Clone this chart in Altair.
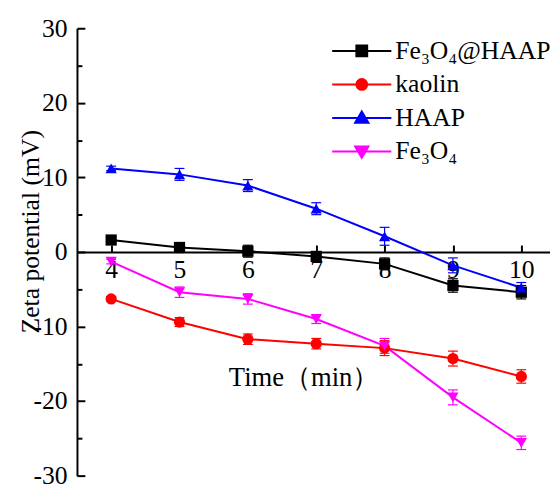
import altair as alt
import pandas as pd

time = [4, 5, 6, 7, 8, 9, 10]
series_names = ["Fe₃O₄@HAAP", "kaolin", "HAAP", "Fe₃O₄"]
colors = ["#000000", "#ff0000", "#0000ff", "#ff00ff"]
shapes = ["square", "circle", "triangle-up", "triangle-down"]

fe3o4_haap = [1.6, 0.6, 0.1, -0.6, -1.6, -4.5, -5.4]
fe3o4_haap_err = [0.3, 0.5, 0.8, 0.5, 0.8, 0.9, 0.9]
kaolin = [-6.3, -9.4, -11.7, -12.3, -12.9, -14.3, -16.7]
kaolin_err = [0.3, 0.6, 0.7, 0.7, 1.0, 1.0, 0.9]
haap = [11.2, 10.4, 8.9, 5.8, 2.1, -1.8, -4.8]
haap_err = [0.3, 0.8, 0.8, 0.8, 1.2, 1.0, 0.7]
fe3o4 = [-1.3, -5.4, -6.3, -9.0, -12.6, -19.5, -25.6]
fe3o4_err = [0.3, 0.7, 0.7, 0.6, 1.0, 1.0, 0.9]

y_major = [-30, -20, -10, 0, 10, 20, 30]
y_minor = [-25, -15, -5, 5, 15, 25]

# legend keys: line + marker glyphs (symbol paths in units of half the symbol size)
LINE = "M -6 0 L 6 0 "
legend_glyphs = [
    LINE + "M -1.1 -1.1 L 1.1 -1.1 L 1.1 1.1 L -1.1 1.1 Z",
    LINE + "M -1.1 0 A 1.1 1.1 0 1 0 1.1 0 A 1.1 1.1 0 1 0 -1.1 0 Z",
    LINE + "M 0 -1.3 L 1.35 1.0 L -1.35 1.0 Z",
    LINE + "M 0 1.3 L 1.35 -1.0 L -1.35 -1.0 Z",
]

rows = []
for name, vals, errs in zip(series_names,
                            [fe3o4_haap, kaolin, haap, fe3o4],
                            [fe3o4_haap_err, kaolin_err, haap_err, fe3o4_err]):
    for t, v, e in zip(time, vals, errs):
        rows.append(dict(time=t, zeta=v, lo=v - e, hi=v + e, series=name))
df = pd.DataFrame(rows)

FONT = "Liberation Serif"
W, H = 480, 454
xscale = alt.Scale(domain=[3.5, 10.42], nice=False, zero=False)
yscale = alt.Scale(domain=[-30, 30], nice=False, zero=False)


def cscale():
    return alt.Scale(domain=series_names, range=colors)


x_main_axis = alt.Axis(orient="bottom", offset=-H / 2, values=time, tickSize=0,
                       labelPadding=5, labelFontSize=26, labelFont=FONT,
                       labelColor="black", labelFlush=False, domainColor="black",
                       domainWidth=2, grid=False, title="Time（min）", titleFont=FONT,
                       titleFontSize=27, titleFontWeight="normal", titleColor="black",
                       titleX=230, titleY=128, titleAlign="center", titleBaseline="middle")
x_tick_axis = alt.Axis(orient="top", offset=-H / 2, values=time, tickSize=7,
                       tickWidth=2, tickColor="black", labels=False, domain=False,
                       grid=False, title=None)
y_main_axis = alt.Axis(orient="left", values=y_major, tickSize=0, labelPadding=10,
                       labelFontSize=26, labelFont=FONT, labelColor="black",
                       labelFlush=False, labelExpr="datum.value + ''",
                       domainColor="black", domainWidth=2, grid=False,
                       title="Zeta potential (mV)", titleFont=FONT, titleFontSize=26,
                       titleFontWeight="normal", titleColor="black",
                       titleX=-47, titleY=206, titleAngle=270, titleAlign="center",
                       titleBaseline="middle")
y_major_ticks = alt.Axis(orient="right", offset=-W, values=y_major, tickSize=8,
                         tickWidth=2, tickColor="black", labels=False, domain=False,
                         grid=False, title=None)
y_minor_ticks = alt.Axis(orient="right", offset=-W, values=y_minor, tickSize=5,
                         tickWidth=2, tickColor="black", labels=False, domain=False,
                         grid=False, title=None)

key_legend = alt.Legend(orient="none", legendX=276, legendY=10, title=None,
                        symbolSize=100, symbolStrokeWidth=2, symbolOpacity=1,
                        labelFontSize=26, labelFont=FONT, labelColor="black",
                        labelOffset=21, rowPadding=8, padding=0)

base = alt.Chart(df)

lines = base.mark_line(strokeWidth=2).encode(
    x=alt.X("time:Q", scale=xscale, axis=x_main_axis),
    y=alt.Y("zeta:Q", scale=yscale, axis=y_main_axis),
    stroke=alt.Stroke("series:N", scale=cscale(), legend=None),
)

err = base.mark_rule(strokeWidth=1.2).encode(
    x=alt.X("time:Q", scale=xscale, axis=x_tick_axis),
    y=alt.Y("lo:Q", scale=yscale, axis=y_major_ticks),
    y2="hi:Q",
    stroke=alt.Stroke("series:N", scale=cscale(), legend=None),
)

cap_lo = base.mark_point(shape="M -1 0 L 1 0", size=100, strokeWidth=1.2,
                         filled=False, opacity=1).encode(
    x=alt.X("time:Q", scale=xscale, axis=None),
    y=alt.Y("lo:Q", scale=yscale, axis=y_minor_ticks),
    stroke=alt.Stroke("series:N", scale=cscale(), legend=None),
)

cap_hi = base.mark_point(shape="M -1 0 L 1 0", size=100, strokeWidth=1.2,
                         filled=False, opacity=1).encode(
    x=alt.X("time:Q", scale=xscale, axis=None),
    y=alt.Y("hi:Q", scale=yscale, axis=None),
    stroke=alt.Stroke("series:N", scale=cscale(), legend=None),
)

points = base.mark_point(filled=True, size=130, opacity=1).encode(
    x=alt.X("time:Q", scale=xscale, axis=None),
    y=alt.Y("zeta:Q", scale=yscale, axis=None),
    color=alt.Color("series:N", scale=cscale(), legend=None),
    shape=alt.Shape("series:N", scale=alt.Scale(domain=series_names, range=shapes),
                    legend=None),
)

# legend carrier: no marks drawn, only the legend from the explicit scale domains
legend_layer = base.transform_filter("datum.time < 0").mark_point(
    filled=True, size=100).encode(
    x=alt.X("time:Q", scale=xscale, axis=None),
    y=alt.Y("zeta:Q", scale=yscale, axis=None),
    fill=alt.Fill("series:N", scale=cscale(), legend=key_legend),
    stroke=alt.Stroke("series:N", scale=cscale(), legend=key_legend),
    shape=alt.Shape("series:N",
                    scale=alt.Scale(domain=series_names, range=legend_glyphs),
                    legend=key_legend),
)

chart = alt.layer(lines, err, cap_lo, cap_hi, points, legend_layer).resolve_axis(
    x="independent", y="independent"
).resolve_scale(
    color="independent", fill="independent", stroke="independent", shape="independent"
).properties(
    width=W, height=H,
    autosize=alt.AutoSizeParams(type="none"),
    padding={"left": 70, "top": 17, "right": 0, "bottom": 9},
).configure_view(stroke=None)

chart.save("out.html", embed_options={"renderer": "svg", "actions": False})
